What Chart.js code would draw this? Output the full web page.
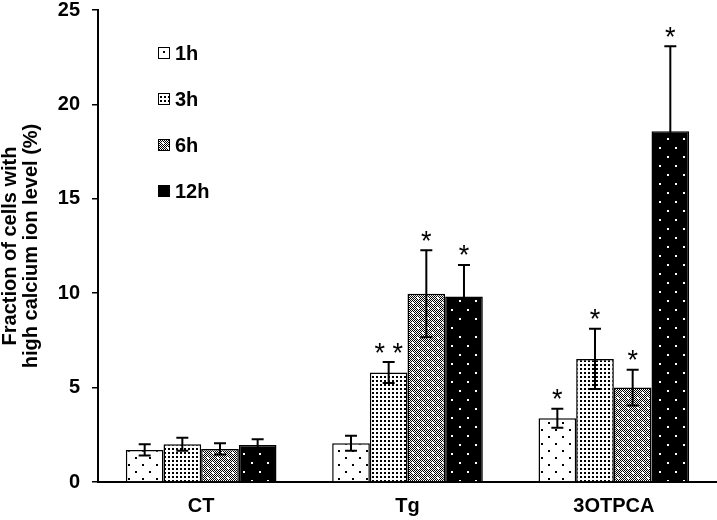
<!DOCTYPE html>
<html>
<head>
<meta charset="utf-8">
<script src="https://cdn.jsdelivr.net/npm/chart.js@4"></script>
<style>
  html, body { margin: 0; padding: 0; background: #fff; }
  #wrap { width: 717px; height: 520px; }
</style>
</head>
<body>
<div id="wrap"><canvas id="grafico" width="717" height="520"></canvas></div>
<script>
// dados
const categorias = ['CT', 'Tg', '3OTPCA'];
const series = ['1h', '3h', '6h', '12h'];
const valores1h = [1.7, 2.05, 3.38];
const valores3h = [2.0, 5.8, 6.52];
const valores6h = [1.75, 9.97, 5.0];
const valores12h = [1.96, 9.83, 18.58];
const erros1h = [0.3, 0.4, 0.5];
const erros3h = [0.35, 0.55, 1.6];
const erros6h = [0.3, 2.3, 0.95];
const erros12h = [0.3, 1.67, 4.5];
const asteriscos1h = ['', '', '*'];
const asteriscos3h = ['', '* *', '*'];
const asteriscos6h = ['', '*', '*'];
const asteriscos12h = ['', '*', '*'];
const ticksY = [0, 5, 10, 15, 20, 25];

const FONTE = 'Arial, "Liberation Sans", sans-serif';

// padrões de preenchimento
function criarPadrao(w, h, desenhar) {
    const c = document.createElement('canvas');
    c.width = w; c.height = h;
    const g = c.getContext('2d');
    desenhar(g);
    return g.createPattern(c, 'repeat');
}

const padrao1h = criarPadrao(14, 14, g => {
    g.fillStyle = '#fff'; g.fillRect(0, 0, 14, 14);
    g.fillStyle = '#000';
    g.fillRect(2, 2, 2, 2);
    g.fillRect(9, 9, 2, 2);
});
const padrao3h = criarPadrao(4, 4, g => {
    g.fillStyle = '#fff'; g.fillRect(0, 0, 4, 4);
    g.fillStyle = '#000';
    g.fillRect(0, 0, 2, 2);
});
const padrao6h = criarPadrao(10, 10, g => {
    g.fillStyle = '#fff'; g.fillRect(0, 0, 10, 10);
    g.fillStyle = '#000';
    for (let y = 0; y < 10; y++)
        for (let x = 0; x < 10; x++)
            if ((x + y) % 2 === 0) g.fillRect(x, y, 1, 1);
    g.fillStyle = '#fff';
    g.fillRect(2, 2, 2, 2);
    g.fillRect(7, 7, 2, 2);
});
const padrao12h = criarPadrao(16, 18, g => {
    g.fillStyle = '#000'; g.fillRect(0, 0, 16, 18);
    g.fillStyle = '#fff';
    g.fillRect(3, 3, 2, 2);
    g.fillRect(11, 12, 2, 2);
});

const padroes = [padrao1h, padrao3h, padrao6h, padrao12h];
const valores = [valores1h, valores3h, valores6h, valores12h];
const erros = [erros1h, erros3h, erros6h, erros12h];
const asteriscos = [asteriscos1h, asteriscos3h, asteriscos6h, asteriscos12h];

// barras de erro e asteriscos
const pluginErros = {
    id: 'erros',
    afterDatasetsDraw(chart) {
        const ctx = chart.ctx;
        const y = chart.scales.y;
        ctx.save();
        ctx.strokeStyle = '#000';
        ctx.lineWidth = 2;
        chart.data.datasets.forEach((ds, i) => {
            const meta = chart.getDatasetMeta(i);
            meta.data.forEach((barra, j) => {
                const v = ds.data[j];
                const e = erros[i][j];
                const yTop = y.getPixelForValue(v + e);
                const yBot = y.getPixelForValue(v - e);
                const x = barra.x;
                ctx.beginPath();
                ctx.moveTo(x, yTop); ctx.lineTo(x, yBot);
                ctx.moveTo(x - 6, yTop); ctx.lineTo(x + 6, yTop);
                ctx.moveTo(x - 6, yBot); ctx.lineTo(x + 6, yBot);
                ctx.stroke();
                const txt = asteriscos[i][j];
                if (txt) {
                    ctx.fillStyle = '#000';
                    ctx.font = '27px ' + FONTE;
                    ctx.textAlign = 'center';
                    ctx.textBaseline = 'middle';
                    ctx.fillText(txt, x, yTop - 8);
                }
            });
        });
        ctx.restore();
    }
};

// legenda desenhada dentro da área do gráfico
const pluginLegenda = {
    id: 'legendaInterna',
    afterDraw(chart) {
        const ctx = chart.ctx;
        ctx.save();
        ctx.font = 'bold 20px ' + FONTE;
        ctx.textBaseline = 'middle';
        ctx.textAlign = 'left';
        chart.data.datasets.forEach((ds, i) => {
            const cy = 53 + i * 46;
            ctx.fillStyle = ds.backgroundColor;
            ctx.fillRect(158, cy - 6, 12, 12);
            ctx.strokeStyle = '#000';
            ctx.lineWidth = 1;
            ctx.strokeRect(158.5, cy - 5.5, 11, 11);
            ctx.fillStyle = '#000';
            ctx.fillText(ds.label, 175, cy + 1);
        });
        ctx.restore();
    }
};

function inicializar() {
    const ctx = document.getElementById('grafico').getContext('2d');
    new Chart(ctx, {
        type: 'bar',
        data: {
            labels: categorias,
            datasets: series.map((s, i) => ({
                label: s,
                data: valores[i],
                backgroundColor: padroes[i],
                borderColor: '#000',
                borderWidth: 1.5,
                borderSkipped: 'bottom',
                categoryPercentage: 0.73,
                barPercentage: 1.0
            }))
        },
        options: {
            responsive: false,
            animation: false,
            layout: { padding: { top: 0, right: 0, left: 0, bottom: 0 } },
            plugins: {
                legend: { display: false },
                tooltip: { enabled: false }
            },
            scales: {
                x: {
                    grid: { display: false },
                    border: { display: true, color: '#000', width: 2 },
                    ticks: {
                        color: '#000',
                        font: { family: FONTE, size: 20, weight: 'bold' },
                        padding: 4
                    },
                    afterFit(scale) { scale.height = 38; }
                },
                y: {
                    min: 0,
                    max: 25,
                    afterBuildTicks(scale) {
                        scale.ticks = ticksY.map(v => ({ value: v }));
                    },
                    grid: {
                        display: true,
                        drawOnChartArea: false,
                        drawTicks: true,
                        tickLength: 6,
                        color: '#000',
                        lineWidth: 1.5
                    },
                    border: { display: true, color: '#000', width: 2 },
                    ticks: {
                        color: '#000',
                        font: { family: FONTE, size: 20, weight: 'bold' },
                        padding: 12
                    },
                    title: {
                        display: true,
                        text: ['Fraction of cells with', 'high calcium ion level (%)'],
                        color: '#000',
                        font: { family: FONTE, size: 20, weight: 'bold', lineHeight: 1.05 },
                        padding: { top: 0, bottom: 0 }
                    },
                    afterFit(scale) {
                        scale.width = 98;
                        scale.paddingTop = 10;
                        scale.paddingBottom = 0;
                    }
                }
            }
        },
        plugins: [pluginErros, pluginLegenda]
    });
}

window.onload = inicializar;
</script>
</body>
</html>
